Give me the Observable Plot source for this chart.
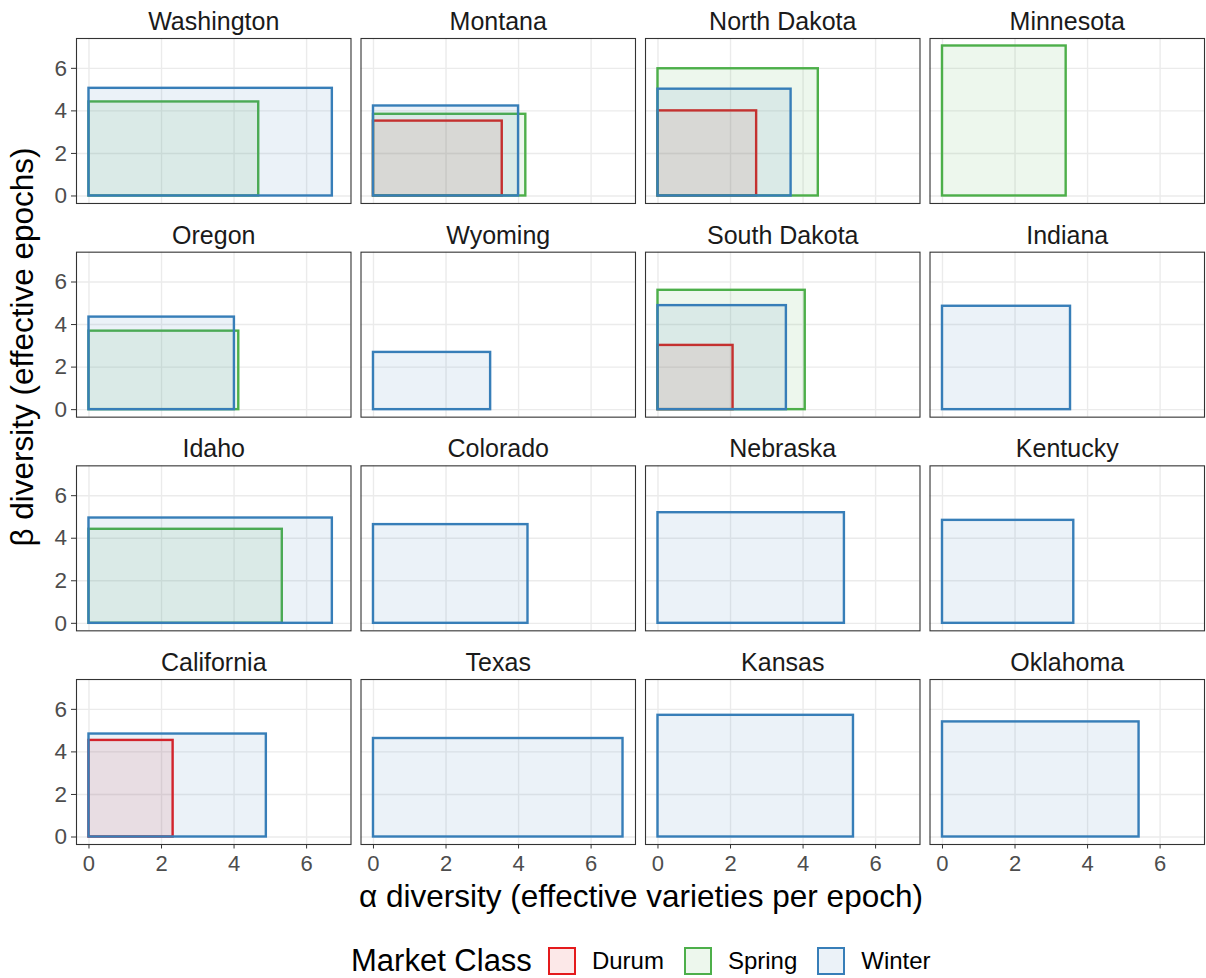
<!DOCTYPE html>
<html>
<head>
<meta charset="utf-8">
<script src="https://cdn.jsdelivr.net/npm/d3@7"></script>
<script src="https://cdn.jsdelivr.net/npm/@observablehq/plot@0.6"></script>
<style>
  body { margin: 0; background: #fff; font-family: "Liberation Sans", Arial, sans-serif; }
  #wrap { position: relative; width: 1206px; height: 978px; }
  #legend { position: absolute; left: 0; top: 947px; width: 1206px; height: 28px;
            display: flex; align-items: center; justify-content: flex-start; padding-left: 351px; box-sizing: border-box; }
  #legend .title { font-size: 31px; color: #000; margin-right: 16px; }
  #legend .sw { width: 24px; height: 24px; border-style: solid; border-width: 2.4px; margin-right: 16px; }
  #legend .lab { font-size: 24px; color: #000; margin-right: 20px; }
</style>
</head>
<body>
<div id="wrap"><div id="chart"></div><div id="legend"></div></div>
<script>
// Facet order (row by row)
const states = ["Washington", "Montana", "North Dakota", "Minnesota",
                "Oregon", "Wyoming", "South Dakota", "Indiana",
                "Idaho", "Colorado", "Nebraska", "Kentucky",
                "California", "Texas", "Kansas", "Oklahoma"];

const classes = ["Durum", "Spring", "Winter"];
const classColors = ["#e41a1c", "#4daf4a", "#377eb8"];

// Durum
const durumStates = ["Montana", "North Dakota", "South Dakota", "California"];
const durumAlpha  = [3.55, 2.72, 2.07, 2.32];
const durumBeta   = [3.52, 4.00, 3.02, 4.54];

// Spring
const springStates = ["Washington", "Montana", "North Dakota", "Minnesota", "Oregon", "South Dakota", "Idaho"];
const springAlpha  = [4.68, 4.20, 4.42, 3.41, 4.13, 4.06, 5.33];
const springBeta   = [4.42, 3.84, 5.98, 7.05, 3.69, 5.61, 4.42];

// Winter
const winterStates = ["Washington", "Montana", "North Dakota", "Oregon", "Wyoming", "South Dakota", "Indiana",
                      "Idaho", "Colorado", "Nebraska", "Kentucky", "California", "Texas", "Kansas", "Oklahoma"];
const winterAlpha  = [6.71, 4.00, 3.67, 4.01, 3.23, 3.54, 3.53, 6.71, 4.26, 5.14, 3.62, 4.89, 6.88, 5.39, 5.42];
const winterBeta   = [5.06, 4.23, 5.02, 4.35, 2.69, 4.89, 4.86, 4.95, 4.64, 5.20, 4.84, 4.84, 4.63, 5.72, 5.41];

const xTicks = [0, 2, 4, 6];
const yTicks = [0, 2, 4, 6];

const xTitle = "α diversity (effective varieties per epoch)";
const yTitle = "β diversity (effective epochs)";
const legendTitle = "Market Class";

// Build table
const rows = [];
function add(cls, st, al, be) {
  st.forEach((s, i) => {
    const k = states.indexOf(s);
    rows.push({cls, state: s, alpha: al[i], beta: be[i], col: k % 4, row: Math.floor(k / 4)});
  });
}
add("Durum", durumStates, durumAlpha, durumBeta);
add("Spring", springStates, springAlpha, springBeta);
add("Winter", winterStates, winterAlpha, winterBeta);

const xMax = d3.max(rows, d => d.alpha);
const yMax = d3.max(rows, d => d.beta);

const W = 1206, H = 920;
const font = "'Liberation Sans', Arial, sans-serif";

const chart = Plot.plot({
  width: W,
  height: H,
  marginLeft: 76,
  marginRight: 2,
  marginTop: 38,
  marginBottom: 76,
  style: {fontFamily: font, background: "white", overflow: "visible"},
  fx: {domain: [0, 1, 2, 3], axis: null, paddingInner: 0.0352, paddingOuter: 0, round: false},
  fy: {domain: [0, 1, 2, 3], axis: null, paddingInner: 0.2279, paddingOuter: 0, round: false},
  x: {domain: [-0.05 * xMax, 1.05 * xMax]},
  y: {domain: [-0.05 * yMax, 1.05 * yMax]},
  color: {domain: classes, range: classColors},
  marks: [
    Plot.gridX(xTicks, {stroke: "#ebebeb", strokeOpacity: 1, strokeWidth: 1.4}),
    Plot.gridY(yTicks, {stroke: "#ebebeb", strokeOpacity: 1, strokeWidth: 1.4}),
    Plot.rect(rows, {
      x1: d => 0, x2: "alpha", y1: d => 0, y2: "beta",
      fx: "col", fy: "row",
      fill: "cls", fillOpacity: 0.1,
      stroke: "cls", strokeWidth: 2.4
    }),
    Plot.frame({stroke: "#333333", strokeWidth: 1.1}),
    // ticks
    Plot.axisX(xTicks, {anchor: "bottom", facetAnchor: "bottom", tickSize: 4.5, tickFormat: () => "", label: null, stroke: "#333333"}),
    Plot.axisY(yTicks, {anchor: "left", facetAnchor: "left", tickSize: 5, tickFormat: () => "", label: null, stroke: "#333333"}),
    // tick labels
    Plot.axisX(xTicks, {anchor: "bottom", facetAnchor: "bottom", tickSize: 0, tickPadding: 10.5, fontSize: 22, color: "#4d4d4d", label: null}),
    Plot.axisY(yTicks, {anchor: "left", facetAnchor: "left", tickSize: 0, tickPadding: 9.5, fontSize: 22.5, color: "#4d4d4d", label: null}),
    // strip titles
    Plot.text(states, {
      fx: (d, i) => i % 4, fy: (d, i) => Math.floor(i / 4),
      text: d => d, frameAnchor: "top", lineAnchor: "bottom", dy: -8.5,
      fontSize: 25, fill: "#1a1a1a"
    })
  ]
});

document.getElementById("chart").appendChild(chart);

const svg = d3.select(chart);
svg.append("text")
  .attr("x", 641).attr("y", 907)
  .attr("text-anchor", "middle")
  .attr("font-size", 31.5).attr("font-family", font).attr("fill", "#000")
  .text(xTitle);
svg.append("text")
  .attr("transform", "translate(33,347) rotate(-90)")
  .attr("text-anchor", "middle")
  .attr("font-size", 31.5).attr("font-family", font).attr("fill", "#000")
  .text(yTitle);

// Legend
const legend = d3.select("#legend");
legend.append("span").attr("class", "title").text(legendTitle);
classes.forEach((c, i) => {
  const fillCol = d3.interpolateRgb("#ffffff", classColors[i])(0.1);
  legend.append("span").attr("class", "sw")
    .style("border-color", classColors[i])
    .style("background", fillCol);
  legend.append("span").attr("class", "lab").text(c);
});
</script>
</body>
</html>
